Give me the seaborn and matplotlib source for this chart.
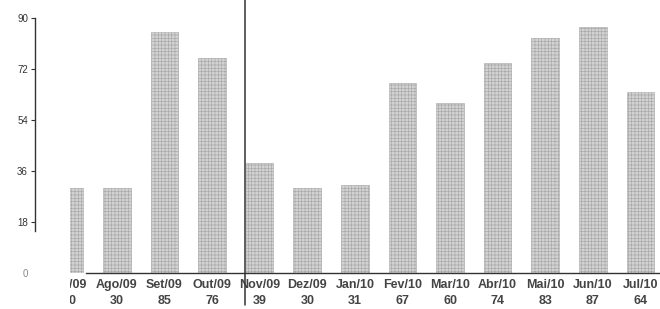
import matplotlib
matplotlib.use("Agg")
import matplotlib.pyplot as plt
import seaborn as sns
from matplotlib.patches import Rectangle

months = ["Jul/09", "Ago/09", "Set/09", "Out/09", "Nov/09", "Dez/09", "Jan/10",
          "Fev/10", "Mar/10", "Abr/10", "Mai/10", "Jun/10", "Jul/10"]
values = [30, 30, 85, 76, 39, 30, 31, 67, 60, 74, 83, 87, 64]
y_ticks = [0, 18, 36, 54, 72, 90]

sns.set_style("white")
plt.rcParams["font.family"] = ["Liberation Sans", "DejaVu Sans"]
plt.rcParams["hatch.color"] = "#a0a0a0"
plt.rcParams["hatch.linewidth"] = 0.45

fig = plt.figure(figsize=(6.6, 3.09), dpi=100)
ax = fig.add_axes([35 / 660, 36 / 309, 1 - 35 / 660, 255 / 309])

sns.barplot(x=months, y=values, color="#d2d2d2", width=0.58, saturation=1,
            edgecolor="#a8a8a8", linewidth=0.4, ax=ax)
for bar in ax.patches:
    bar.set_hatch("+++++")

ax.set_xlim(-0.72, 12.41)
ax.set_ylim(0, 90)
ax.set_yticks(y_ticks)
ax.set_yticklabels([str(t) for t in y_ticks], fontsize=7, color="#333333")
ax.set_xticks(range(len(months)))
ax.set_xticklabels([f"{m}\n{v}" for m, v in zip(months, values)],
                   fontsize=9, fontweight="bold", color="#444444",
                   linespacing=1.45)
ax.tick_params(axis="x", length=0, pad=4)
ax.tick_params(axis="y", left=True, length=3, width=0.8, color="#333333", pad=2)
# the 0 tick sits on the torn part of the page: faint label, no mark
ax.get_yticklabels()[0].set_color("#888888")
ax.yaxis.get_major_ticks()[0].tick1line.set_visible(False)

for side in ["top", "right"]:
    ax.spines[side].set_visible(False)
ax.spines["left"].set_color("#333333")
ax.spines["left"].set_linewidth(1.0)
ax.spines["left"].set_bounds(15, 90)
ax.spines["bottom"].set_color("#333333")
ax.spines["bottom"].set_linewidth(1.0)
ax.spines["bottom"].set_bounds(0.35, 12.41)

# divider between Out/09 and Nov/09
ax.axvline(3.69, ymin=-0.125, ymax=1.08, color="#333333", lw=1.1, clip_on=False)

# torn corner of the scanned page
fig.patches.append(Rectangle((38 / 660, 0), 32 / 660, 135 / 309,
                             transform=fig.transFigure, facecolor="white",
                             edgecolor="none", zorder=10))

fig.savefig("out.png", dpi=100)
